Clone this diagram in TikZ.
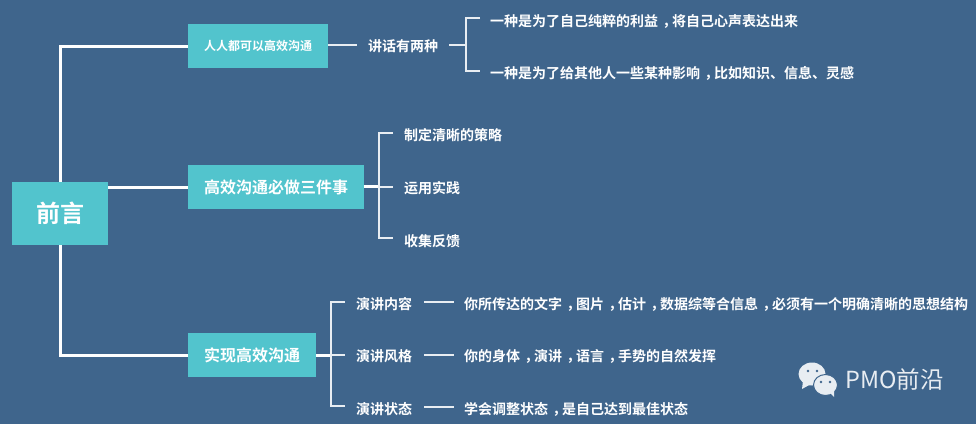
\documentclass[tikz,border=0pt]{standalone}
\usepackage{fontspec}
\setmainfont{Noto Sans CJK SC}[BoldFont={Noto Sans CJK SC Bold}]
\newfontfamily\cjkreg{Noto Sans CJK SC}
\definecolor{bgblue}{HTML}{3F658C}
\definecolor{teal}{HTML}{52C4CD}
\definecolor{soft}{HTML}{E8EDF2}
\newcommand\midcomma{\kern4.5pt ，\kern-4.5pt}
\tikzset{
  boxnode/.style={fill=teal,text=white,font=\bfseries\fontsize{#1}{#1}\selectfont,inner sep=0pt,align=center},
  leaf/.style={anchor=west,inner sep=0pt,text=white,font=\bfseries\fontsize{14}{14}\selectfont},
  trunk/.style={draw=white,line width=3pt},
  branch/.style={draw=soft,line width=2pt},
}
\begin{document}
\begin{tikzpicture}[x=1pt,y=-1pt]
\fill[bgblue] (0,0) rectangle (976,424);
\useasboundingbox (0,0) rectangle (976,424);
% boxes
\node[boxnode=24,minimum width=96pt,minimum height=63pt] (root) at (60,213.5) {前言};
\node[boxnode=12,minimum width=140pt,minimum height=44pt] (b1) at (258,46) {人人都可以高效沟通};
\node[boxnode=16,minimum width=176pt,minimum height=44pt] (b2) at (276,187) {高效沟通必做三件事};
\node[boxnode=16,minimum width=128pt,minimum height=44pt] (b3) at (252,355) {实现高效沟通};
% trunks
\draw[trunk] (root.north) |- (b1.west);
\draw[trunk] (root.east|-b2.west) -- (b2.west);
\draw[trunk] (root.south) |- (b3.west);
% group 1
\node[leaf] (talk) at (368,46.5) {讲话有两种};
\node[leaf] (a1) at (490,21) {一种是为了自己纯粹的利益\midcomma 将自己心声表达出来};
\node[leaf] (a2) at (490,73) {一种是为了给其他人一些某种影响\midcomma 比如知识、信息、灵感};
\coordinate (p1) at (357,44.5);
\coordinate (j1) at (466,44.5);
\coordinate (q1) at (449,44.5);
\coordinate (t1) at (480,18);
\coordinate (t2) at (480,71);
\draw[branch] (b1.east|-p1) -- (p1);
\draw[branch] (q1) -- (j1);
\draw[branch] (t1) -| (j1) |- (t2);
% group 2
\node[leaf] (c1) at (404,135) {制定清晰的策略};
\node[leaf] (c2) at (404,188) {运用实践};
\node[leaf] (c3) at (404,241) {收集反馈};
\coordinate (j2) at (379,186.5);
\coordinate (u1) at (393,133);
\coordinate (u2) at (393,186.5);
\coordinate (u3) at (393,238);
\draw[trunk] (b2.east|-j2) -- (j2);
\draw[branch] (u1) -| (j2) |- (u3);
\draw[branch] (j2) -- (u2);
% group 3
\node[leaf] (d1) at (356,304.5) {演讲内容};
\node[leaf] (d2) at (356,356.5) {演讲风格};
\node[leaf] (d3) at (356,409) {演讲状态};
\node[leaf] (e1) at (464,304.5) {你所传达的文字\midcomma 图片\midcomma 估计\midcomma 数据综等合信息\midcomma 必须有一个明确清晰的思想结构};
\node[leaf] (e2) at (464,356.5) {你的身体\midcomma 演讲\midcomma 语言\midcomma 手势的自然发挥};
\node[leaf] (e3) at (464,409) {学会调整状态\midcomma 是自己达到最佳状态};
\coordinate (j3) at (331,355);
\coordinate (v1) at (345,302);
\coordinate (v2) at (345,355);
\coordinate (v3) at (345,406);
\draw[trunk] (b3.east) -- (j3);
\draw[branch] (v1) -| (j3) |- (v3);
\draw[branch] (j3) -- (v2);
\draw[branch] (424,302) -- (454,302);
\draw[branch] (424,355) -- (454,355);
\draw[branch] (424,407) -- (454,407);
% watermark
\fill[soft] (812,374) ellipse (13.5pt and 11.5pt);
\fill[soft] (803,381) -- (802,389) -- (811,384) -- cycle;
\fill[soft,draw=bgblue,line width=1pt] (825.5,385) ellipse (12pt and 10.5pt);
\fill[soft] (830,393) -- (834,397) -- (834,390) -- cycle;
\fill[bgblue] (808,371) circle (1.4pt) (817,371) circle (1.4pt) (821,382) circle (1.3pt) (830,382) circle (1.3pt);
\node[anchor=west,inner sep=0pt,text=soft,font=\cjkreg\fontsize{23.5}{23.5}\selectfont] (wm) at (845,380) {PMO前沿};
\end{tikzpicture}
\end{document}
